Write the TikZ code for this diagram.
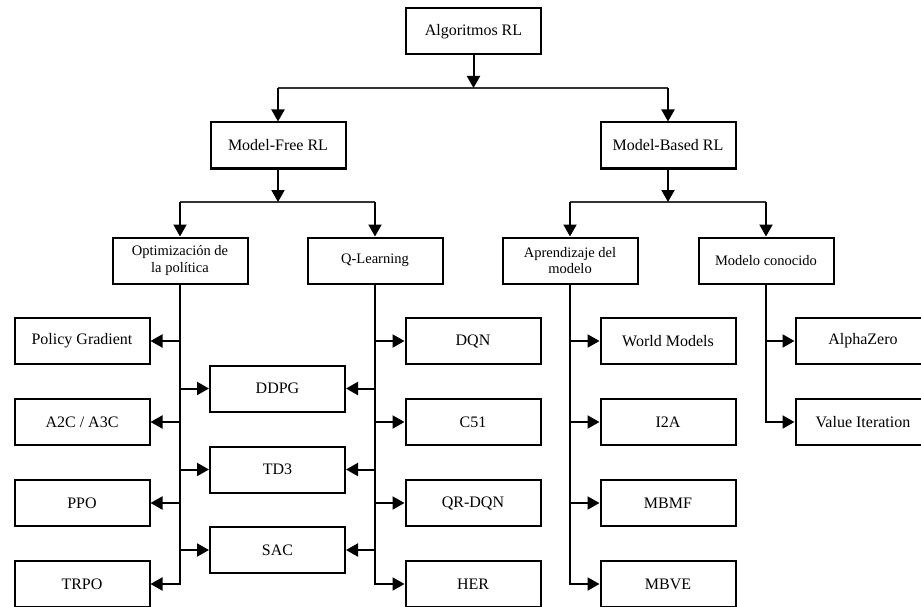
\documentclass[tikz,border=0pt]{standalone}
\usepackage{fontspec}
\setmainfont{Liberation Serif}
\usetikzlibrary{arrows.meta}
\begin{document}
\begin{tikzpicture}[x=1pt,y=-1pt,
  box/.style={draw, line width=2pt, minimum width=135pt, minimum height=46pt, inner sep=2pt,
    font=\fontsize{16}{19}\selectfont, text=black},
  midbox/.style={box, font=\fontsize{14.5}{16.5}\selectfont, align=center},
  arr/.style={line width=2pt, -{Triangle[length=12pt,width=13pt]}},
  hln/.style={line width=1.5pt, black!80}]
\useasboundingbox (0,0) rectangle (921,607);
\clip (0,0) rectangle (921,607);
% level 0-2
\node[box] (alg) at (473.5,31.5) {Algoritmos RL};
\node[box] (mf) at (278,145.5) {Model-Free RL};
\node[box] (mb) at (668,145.5) {Model-Based RL};
\node[midbox] (opt) at (180,260.5) {Optimización de\\la política};
\node[midbox] (ql) at (375,260.5) {Q-Learning};
\node[midbox] (apr) at (570,260.5) {Aprendizaje del\\modelo};
\node[midbox] (mc) at (766,260.5) {Modelo conocido};
% leaves
\node[box] (pg) at (82,341) {Policy Gradient};
\node[box] (a2c) at (82,422) {A2C / A3C};
\node[box] (ppo) at (82,503) {PPO};
\node[box] (trpo) at (82,584) {TRPO};
\node[box] (ddpg) at (277.5,388.5) {DDPG};
\node[box] (td3) at (277.5,469.5) {TD3};
\node[box] (sac) at (277.5,550) {SAC};
\node[box] (dqn) at (473,341) {DQN};
\node[box] (c51) at (473,422) {C51};
\node[box] (qr) at (473,503) {QR-DQN};
\node[box] (her) at (473,584) {HER};
\node[box] (wm) at (668,341) {World Models};
\node[box] (i2a) at (668,422) {I2A};
\node[box] (mbmf) at (668,503) {MBMF};
\node[box] (mbve) at (668,584) {MBVE};
\node[box] (az) at (863,341) {AlphaZero};
\node[box] (vi) at (863,422) {Value Iteration};
% top junctions
\coordinate (j0) at (473.5,88);
\coordinate (j1) at (278,202);
\coordinate (j2) at (668,202);
\draw[hln] (mf |- j0) -- (mb |- j0);
\draw[arr] (alg.south) -- (j0);
\draw[arr] (mf |- j0) -- (mf.north);
\draw[arr] (mb |- j0) -- (mb.north);
\draw[hln] (opt |- j1) -- (ql |- j1);
\draw[arr] (mf.south) -- (j1);
\draw[arr] (opt |- j1) -- (opt.north);
\draw[arr] (ql |- j1) -- (ql.north);
\draw[hln] (apr |- j2) -- (mc |- j2);
\draw[arr] (mb.south) -- (j2);
\draw[arr] (apr |- j2) -- (apr.north);
\draw[arr] (mc |- j2) -- (mc.north);
% policy optimisation
\draw[arr] (opt.south) |- (trpo.east);
\draw[arr] (opt.south |- pg.east) -- (pg.east);
\draw[arr] (opt.south |- a2c.east) -- (a2c.east);
\draw[arr] (opt.south |- ppo.east) -- (ppo.east);
\draw[arr] (opt.south |- ddpg.west) -- (ddpg.west);
\draw[arr] (opt.south |- td3.west) -- (td3.west);
\draw[arr] (opt.south |- sac.west) -- (sac.west);
% Q-learning
\draw[arr] (ql.south) |- (her.west);
\draw[arr] (ql.south |- dqn.west) -- (dqn.west);
\draw[arr] (ql.south |- c51.west) -- (c51.west);
\draw[arr] (ql.south |- qr.west) -- (qr.west);
\draw[arr] (ql.south |- ddpg.east) -- (ddpg.east);
\draw[arr] (ql.south |- td3.east) -- (td3.east);
\draw[arr] (ql.south |- sac.east) -- (sac.east);
% model learning
\draw[arr] (apr.south) |- (mbve.west);
\draw[arr] (apr.south |- wm.west) -- (wm.west);
\draw[arr] (apr.south |- i2a.west) -- (i2a.west);
\draw[arr] (apr.south |- mbmf.west) -- (mbmf.west);
% known model
\draw[arr] (mc.south) |- (vi.west);
\draw[arr] (mc.south |- az.west) -- (az.west);
\end{tikzpicture}
\end{document}
